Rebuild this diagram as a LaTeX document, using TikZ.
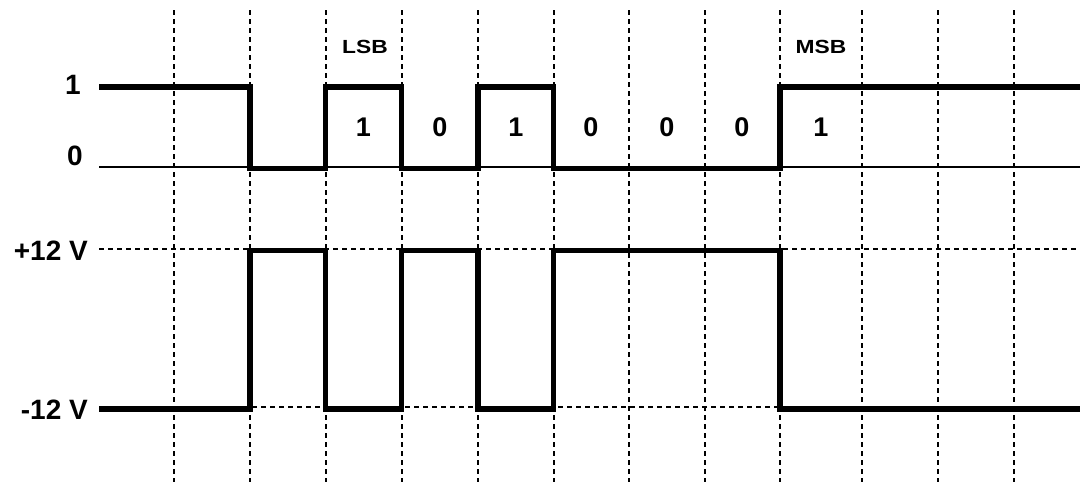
\documentclass[tikz,border=0pt]{standalone}
\usepackage{fontspec}
\setmainfont{Liberation Sans}
\begin{document}
\begin{tikzpicture}[x=1pt,y=-1pt,
  gridline/.style={line width=2pt, dash pattern=on 5pt off 4pt},
  levelline/.style={line width=2pt, dash pattern=on 5pt off 4pt},
  baseline0/.style={line width=2pt},
  signal/.style={line width=5.5pt, line join=miter, line cap=butt},
  biglabel/.style={font=\fontsize{28}{28}\selectfont\bfseries, inner sep=0pt},
  bitlabel/.style={font=\fontsize{27}{27}\selectfont\bfseries, inner sep=0pt},
  smalllabel/.style={font=\fontsize{19}{19}\selectfont\bfseries, inner sep=0pt}]
\useasboundingbox (0,0) rectangle (1080,482);
% vertical grid
\foreach \x [count=\i] in {173.5,250,325.5,401.5,478,553.5,629,704.5,780,862,938,1014}{
  \coordinate (gt\i) at (\x,10);
  \coordinate (gb\i) at (\x,482);
  \draw[gridline] (gt\i) -- (gb\i);
}
% reference levels
\coordinate (b0l) at (99,167);  \coordinate (b0r) at (1080,167);
\coordinate (p12l) at (99,248.5); \coordinate (p12r) at (1076,248.5);
\coordinate (m12l) at (99,407); \coordinate (m12r) at (1076,407);
\draw[baseline0] (b0l) -- (b0r);
\draw[levelline] (p12l) -- (p12r);
\draw[levelline] (m12l) -- (m12r);
% logic signal
\draw[signal] (99,87) -| (250,168.5) -| (325.5,87) -| (401.5,168.5) -| (478,87)
  -| (553.5,168.5) -| (780,87) -- (1080,87);
% line signal
\draw[signal] (99,409) -| (250,250.5) -| (325.5,409) -| (401.5,250.5) -| (478,409)
  -| (553.5,250.5) -| (780,409) -- (1080,409);
% axis labels
\node[biglabel, anchor=east] (one) at (81,85) {1};
\node[biglabel, anchor=east] (zero) at (83,156) {0};
\node[biglabel, anchor=east] (plus) at (88,251) {+12 V};
\node[biglabel, anchor=east] (minus) at (88,410) {-12 V};
% bits
\node[bitlabel] (bit0) at (363.5,127) {1};
\node[bitlabel] (bit1) at (440,127) {0};
\node[bitlabel] (bit2) at (516,127) {1};
\node[bitlabel] (bit3) at (591,127) {0};
\node[bitlabel] (bit4) at (667,127) {0};
\node[bitlabel] (bit5) at (742,127) {0};
\node[bitlabel] (bit6) at (821,127) {1};
\node[smalllabel] (lsb) at (365,46.5) {\scalebox{1.2}[1]{LSB}};
\node[smalllabel] (msb) at (821,46.5) {\scalebox{1.2}[1]{MSB}};
\end{tikzpicture}
\end{document}
